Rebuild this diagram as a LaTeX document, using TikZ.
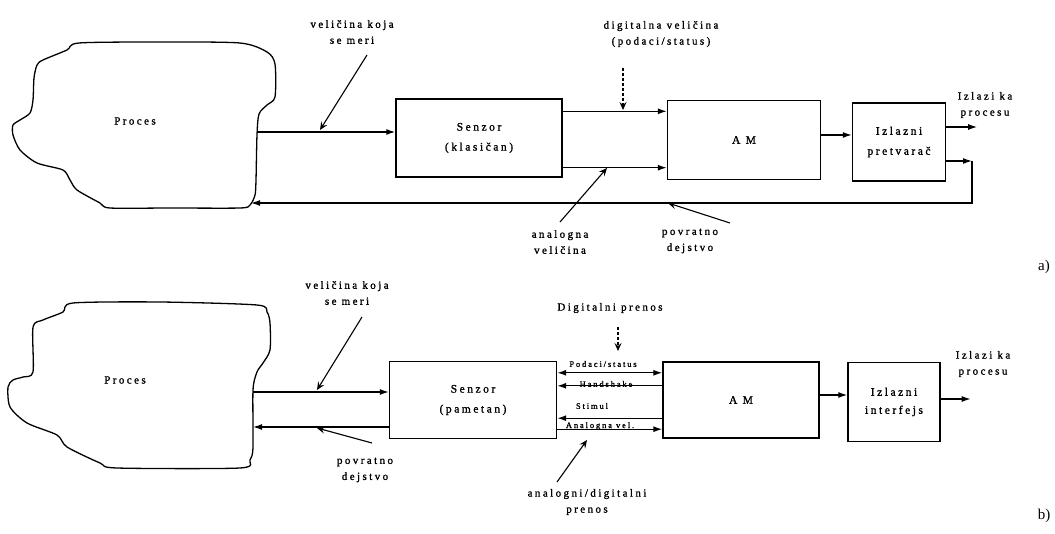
\documentclass[tikz,border=0pt]{standalone}
\usepackage{fontspec}
\setmainfont{Liberation Serif}
\newfontfamily\lblfont[LetterSpace=22,FakeBold=1.2]{Liberation Serif}
\usetikzlibrary{arrows.meta}

\begin{document}
\begin{tikzpicture}[x=1pt,y=-1pt,
  box/.style={draw,line width=1.4pt,inner sep=0pt,align=center,font=\lblfont\fontsize{11.5}{20}\selectfont},
  arr/.style={line width=1.3pt,-{Latex[length=9pt,width=6pt]}},
  ptr/.style={line width=1.1pt,-{Stealth[length=8pt,width=7pt,inset=3pt]}},
  lbl/.style={align=center,inner sep=0pt,font=\lblfont\fontsize{11}{16}\selectfont},
  sml/.style={inner sep=0pt,font=\lblfont\fontsize{8.5}{10}\selectfont}]

\useasboundingbox (0,0) rectangle (1055,534);

% a) klasican senzor
\draw[line width=1.3pt] plot[smooth cycle,tension=0.45] coordinates {
  (79,43) (160,42) (240,43) (267,52) (275,64) (275,97) (267,105) (259,114)
  (257,135) (256,180) (255,195) (250,205) (240,208) (170,208) (110,208)
  (100,203) (77,190) (70,180) (63,170) (37,163) (20,150) (13,135) (13,125)
  (20,120) (30,113) (33,100) (34,78) (37,65) (43,60) (67,50)};
\node[lbl] (procA) at (135,121) {Proces};
\coordinate (inA) at (257,132);
\coordinate (fbA) at (251,203);

\node[box,minimum width=166pt,minimum height=78pt] (senzA) at (479,138) {Senzor\\(klasičan)};
\node[box,minimum width=153pt,minimum height=79pt] (amA) at (744,140) {A M};
\node[box,minimum width=93pt,minimum height=78pt] (izlA) at (899,142) {Izlazni\\pretvarač};
\coordinate (cA) at (972,161);

\draw[arr] (inA) -- (inA -| senzA.west);
\draw[arr] ([yshift=-13pt]senzA.north east) -- ([yshift=-13pt]senzA.north east -| amA.west);
\draw[arr] ([yshift=10pt]senzA.south east) -- ([yshift=10pt]senzA.south east -| amA.west);
\draw[arr] ([yshift=5pt]amA.east) -- ([yshift=5pt]amA.east -| izlA.west);
\draw[arr] ([yshift=15pt]izlA.east) -- ++(31,0);
\draw[arr] ([yshift=-19pt]izlA.east) -- (cA);
\draw[arr] (cA) -- (cA |- fbA) -- (fbA);

\node[lbl] (vmA) at (352,32) {veličina koja\\se meri};
\node[lbl] (dgA) at (661,34) {digitalna veličina\\(podaci/status)};
\node[lbl] (anA) at (560,242) {analogna\\veličina};
\node[lbl] (pvA) at (690,241) {povratno\\dejstvo};
\node[lbl] (izA) at (985,105) {Izlazi ka\\procesu};
\node[font=\fontsize{15}{15}\selectfont] (a) at (1044,267) {a)};

\draw[ptr] (367,55) -- (320,130);
\draw[ptr,densely dashed] (623,68) -- (623,110);
\draw[ptr] (560,222) -- (607,168);
\draw[ptr] (730,223) -- (668,203);

% b) pametan senzor
\draw[line width=1.3pt] plot[smooth cycle,tension=0.45] coordinates {
  (73,303) (160,302) (257,305) (267,312) (270,323) (270,350) (263,363)
  (257,372) (253,390) (253,447) (250,460) (240,468) (117,468) (100,463)
  (67,447) (57,435) (27,423) (10,407) (8,387) (13,380) (23,377) (33,372)
  (33,327) (43,320) (63,312)};
\node[lbl] (procB) at (125,380) {Proces};
\coordinate (inB) at (253,392);
\coordinate (fbB) at (253,427);

\node[box,minimum width=167pt,minimum height=77pt] (senzB) at (473,400) {Senzor\\(pametan)};
\node[box,minimum width=156pt,minimum height=76pt] (amB) at (741,400) {A M};
\node[box,minimum width=92pt,minimum height=79pt,font=\lblfont\fontsize{11.5}{18}\selectfont] (izlB) at (894,402) {Izlazni\\interfejs};

\draw[arr] (inB) -- (inB -| senzB.west);
\draw[arr] (fbB -| senzB.west) -- (fbB);
\draw[arr,{Latex[length=9pt,width=6pt]}-{Latex[length=9pt,width=6pt]}] ([yshift=-12pt]senzB.north east) -- ([yshift=-12pt]senzB.north east -| amB.west);
\draw[arr] ([yshift=-25pt]senzB.north east -| amB.west) -- ([yshift=-25pt]senzB.north east);
\draw[arr] ([yshift=21pt]senzB.south east -| amB.west) -- ([yshift=21pt]senzB.south east);
\draw[arr] ([yshift=10pt]senzB.south east) -- ([yshift=10pt]senzB.south east -| amB.west);
\draw[arr] ([yshift=5pt]amB.east) -- ([yshift=5pt]amB.east -| izlB.west);
\draw[arr] ([yshift=3pt]izlB.east) -- ++(30,0);

\node[sml] (pdB) at (603,364) {Podaci/status};
\node[sml] (hsB) at (606,384) {Handshake};
\node[sml] (stB) at (592,406) {Stimul};
\node[sml] (avB) at (600,426) {Analogna vel.};

\node[lbl] (vmB) at (347,293) {veličina koja\\se meri};
\node[lbl] (dpB) at (610,308) {Digitalni prenos};
\node[lbl] (adB) at (587,502) {analogni/digitalni\\prenos};
\node[lbl] (pvB) at (365,470) {povratno\\dejstvo};
\node[lbl] (izB) at (983,364) {Izlazi ka\\procesu};
\node[font=\fontsize{15}{15}\selectfont] (b) at (1044,516) {b)};

\draw[ptr] (362,317) -- (317,390);
\draw[ptr,densely dashed] (618,327) -- (618,351);
\draw[ptr] (557,482) -- (587,440);
\draw[ptr] (372,443) -- (317,428);

\end{tikzpicture}
\end{document}
